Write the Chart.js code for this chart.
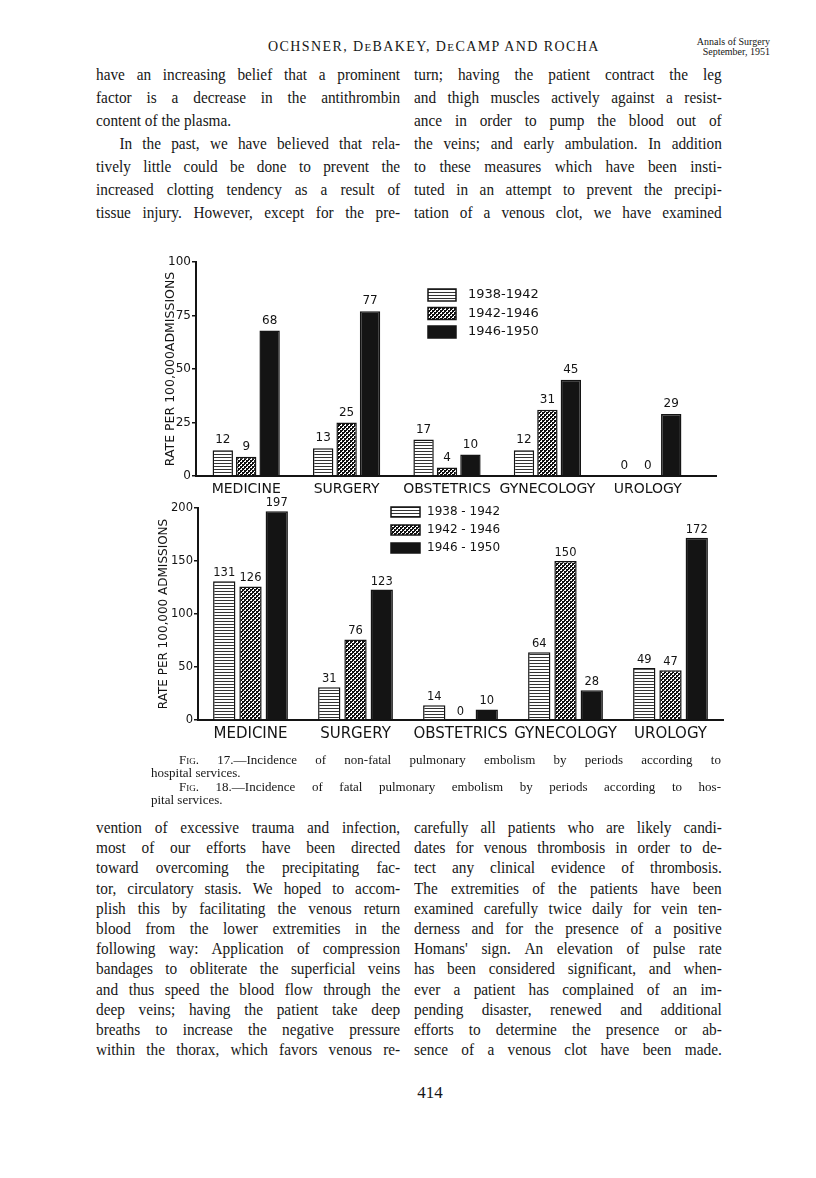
<!DOCTYPE html>
<html>
<head>
<meta charset="utf-8">
<script src="https://cdn.jsdelivr.net/npm/chart.js@4.4.0/dist/chart.umd.min.js"></script>
<style>
html, body { margin: 0; padding: 0; background: #fff; }
body { width: 816px; height: 1178px; position: relative; overflow: hidden;
  font-family: "Liberation Serif", "DejaVu Serif", serif; color: #161616; }
.hdr { position: absolute; left: 268px; top: 39px; font-size: 14px; letter-spacing: 1.4px; white-space: nowrap; }
.hdr small { font-size: 11px; }
.journal { position: absolute; left: 688px; width: 82px; top: 37px; font-size: 10px; line-height: 10px; text-align: right; white-space: nowrap; }
.col { position: absolute; font-size: 17px; transform: scaleX(0.9); transform-origin: 0 0; }
.col.top { top: 63px; line-height: 23px; }
.col.bot { top: 818px; line-height: 20.2px; }
.j { display: flex; justify-content: space-between; white-space: nowrap; }
.ind { padding-left: 26px; }
.cap { position: absolute; left: 151px; top: 753px; width: 570px; font-size: 13px; line-height: 13.4px; }
.sc { font-variant: small-caps; }
.pg { position: absolute; left: 400px; width: 60px; top: 1083px; font-size: 17px; text-align: center; }
canvas { position: absolute; }
#fig17 { left: 140px; top: 250px; }
#fig18 { left: 140px; top: 495px; }
</style>
</head>
<body>
<div class="hdr">OCHSNER, D<small>E</small>BAKEY, D<small>E</small>CAMP AND ROCHA</div>
<div class="journal">Annals of Surgery<br>September, 1951</div>

<div class="col top" style="left:96px; width:338px">
<div class="j">have an increasing belief that a prominent</div>
<div class="j">factor is a decrease in the antithrombin</div>
<div>content of the plasma.</div>
<div class="j ind">In the past, we have believed that rela-</div>
<div class="j">tively little could be done to prevent the</div>
<div class="j">increased clotting tendency as a result of</div>
<div class="j">tissue injury. However, except for the pre-</div>
</div>
<div class="col top" style="left:414px; width:342px">
<div class="j">turn; having the patient contract the leg</div>
<div class="j">and thigh muscles actively against a resist-</div>
<div class="j">ance in order to pump the blood out of</div>
<div class="j">the veins; and early ambulation. In addition</div>
<div class="j">to these measures which have been insti-</div>
<div class="j">tuted in an attempt to prevent the precipi-</div>
<div class="j">tation of a venous clot, we have examined</div>
</div>

<canvas id="fig17" width="600" height="260"></canvas>
<canvas id="fig18" width="600" height="260"></canvas>

<div class="cap">
<div class="j" style="padding-left:28px"><span class="sc">Fig.</span> 17.—Incidence of non-fatal pulmonary embolism by periods according to</div>
<div>hospital services.</div>
<div class="j" style="padding-left:28px"><span class="sc">Fig.</span> 18.—Incidence of fatal pulmonary embolism by periods according to hos-</div>
<div>pital services.</div>
</div>

<div class="col bot" style="left:96px; width:338px">
<div class="j">vention of excessive trauma and infection,</div>
<div class="j">most of our efforts have been directed</div>
<div class="j">toward overcoming the precipitating fac-</div>
<div class="j">tor, circulatory stasis. We hoped to accom-</div>
<div class="j">plish this by facilitating the venous return</div>
<div class="j">blood from the lower extremities in the</div>
<div class="j">following way: Application of compression</div>
<div class="j">bandages to obliterate the superficial veins</div>
<div class="j">and thus speed the blood flow through the</div>
<div class="j">deep veins; having the patient take deep</div>
<div class="j">breaths to increase the negative pressure</div>
<div class="j">within the thorax, which favors venous re-</div>
</div>
<div class="col bot" style="left:414px; width:342px">
<div class="j">carefully all patients who are likely candi-</div>
<div class="j">dates for venous thrombosis in order to de-</div>
<div class="j">tect any clinical evidence of thrombosis.</div>
<div class="j">The extremities of the patients have been</div>
<div class="j">examined carefully twice daily for vein ten-</div>
<div class="j">derness and for the presence of a positive</div>
<div class="j">Homans' sign. An elevation of pulse rate</div>
<div class="j">has been considered significant, and when-</div>
<div class="j">ever a patient has complained of an im-</div>
<div class="j">pending disaster, renewed and additional</div>
<div class="j">efforts to determine the presence or ab-</div>
<div class="j">sence of a venous clot have been made.</div>
</div>

<div class="pg">414</div>

<script>
// split justified lines into word spans so flex can spread them
document.querySelectorAll('.j').forEach(function (el) {
  let head = ''
  let text = el.textContent
  if (el.children.length) {
    head = el.children[0].outerHTML
    text = text.slice(el.children[0].textContent.length)
  }
  el.innerHTML = head + text.trim().split(/\s+/).map(w => '<span>' + w + '</span>').join('')
})

// ---- data ----
const services = ['MEDICINE', 'SURGERY', 'OBSTETRICS', 'GYNECOLOGY', 'UROLOGY']
const periods17 = ['1938-1942', '1942-1946', '1946-1950']
const periods18 = ['1938 - 1942', '1942 - 1946', '1946 - 1950']

// Fig. 17 non-fatal embolism, rate per 100,000 admissions
const nonFatal1938 = [12, 13, 17, 12, 0]
const nonFatal1942 = [9, 25, 4, 31, 0]
const nonFatal1946 = [68, 77, 10, 45, 29]
const ticks17 = [0, 25, 50, 75, 100]

// Fig. 18 fatal embolism
const fatal1938 = [131, 31, 14, 64, 49]
const fatal1942 = [126, 76, 0, 150, 47]
const fatal1946 = [197, 123, 10, 28, 172]
const ticks18 = [0, 50, 100, 150, 200]

const ink = '#141414'
const letter = '"DejaVu Sans", sans-serif'

function hatchLines() {
  let c = document.createElement('canvas')
  c.width = 4; c.height = 3
  let g = c.getContext('2d')
  g.fillStyle = '#fff'; g.fillRect(0, 0, 4, 3)
  g.fillStyle = '#333'; g.fillRect(0, 0, 4, 1)
  return g.createPattern(c, 'repeat')
}
function hatchChecks() {
  let c = document.createElement('canvas')
  c.width = 4; c.height = 4
  let g = c.getContext('2d')
  g.fillStyle = '#fff'; g.fillRect(0, 0, 4, 4)
  g.fillStyle = '#111'
  g.fillRect(0, 0, 2, 2)
  g.fillRect(2, 2, 2, 2)
  g.fillRect(0, 2, 1, 1)
  g.fillRect(2, 0, 1, 1)
  return g.createPattern(c, 'repeat')
}
const fills = [hatchLines(), hatchChecks(), ink]

// value written above every bar
const barLabels = {
  id: 'barLabels',
  afterDatasetsDraw(chart, args, opts) {
    let ctx = chart.ctx
    ctx.save()
    ctx.font = opts.font
    ctx.fillStyle = ink
    ctx.textAlign = 'center'
    ctx.textBaseline = 'middle'
    chart.data.datasets.forEach((ds, i) => {
      chart.getDatasetMeta(i).data.forEach((bar, j) => {
        ctx.fillText(String(ds.data[j]), bar.x, bar.y - opts.offset)
      })
    })
    ctx.restore()
  }
}

// little boxed legend inside the plot
const boxLegend = {
  id: 'boxLegend',
  afterDraw(chart, args, opts) {
    let ctx = chart.ctx
    ctx.save()
    ctx.font = opts.font
    ctx.textBaseline = 'middle'
    chart.data.datasets.forEach((ds, i) => {
      let y = opts.y + i * opts.gap
      ctx.fillStyle = ds.backgroundColor
      ctx.fillRect(opts.x, y - opts.h / 2, opts.w, opts.h)
      ctx.strokeStyle = ink
      ctx.lineWidth = 1.5
      ctx.strokeRect(opts.x, y - opts.h / 2, opts.w, opts.h)
      ctx.fillStyle = ink
      ctx.fillText(ds.label, opts.textX, y)
    })
    ctx.restore()
  }
}

// the drawn base line runs a bit past the last group
const longBase = {
  id: 'longBase',
  afterDraw(chart, args, opts) {
    if (!opts.extra) return
    let ctx = chart.ctx, a = chart.chartArea
    ctx.save()
    ctx.strokeStyle = ink
    ctx.lineWidth = 2
    ctx.beginPath()
    ctx.moveTo(a.right - 1, a.bottom)
    ctx.lineTo(a.right + opts.extra, a.bottom)
    ctx.stroke()
    ctx.restore()
  }
}

function makeChart(id, sets, labels, yTicks, cfg) {
  const datasets = sets.map((d, i) => ({
    label: labels[i],
    data: d,
    backgroundColor: fills[i],
    borderColor: ink,
    borderWidth: 1.5,
    borderSkipped: 'start',
    categoryPercentage: cfg.catPct,
    barPercentage: cfg.barPct
  }))
  return new Chart(document.getElementById(id), {
    type: 'bar',
    data: { labels: services, datasets: datasets },
    plugins: [barLabels, boxLegend, longBase],
    options: {
      responsive: false,
      animation: false,
      events: [],
      layout: { padding: cfg.pad },
      plugins: {
        legend: { display: false },
        tooltip: { enabled: false },
        barLabels: { font: cfg.valFont, offset: cfg.valOffset },
        boxLegend: cfg.legend,
        longBase: { extra: cfg.extra }
      },
      scales: {
        x: {
          afterFit: s => { s.height = 30 },
          border: { display: true, color: ink, width: 2 },
          grid: { display: false, drawTicks: false },
          ticks: { color: ink, font: { family: letter, size: cfg.catSize }, padding: 5, maxRotation: 0, autoSkip: false }
        },
        y: {
          min: 0,
          max: yTicks[yTicks.length - 1],
          afterBuildTicks: s => { s.ticks = yTicks.map(v => ({ value: v })) },
          afterFit: s => { s.width = cfg.yWidth },
          border: { display: true, color: ink, width: 2 },
          grid: { drawOnChartArea: false, drawTicks: true, tickLength: 4, color: ink, lineWidth: 1.5 },
          ticks: { color: ink, font: { family: letter, size: cfg.tickSize }, padding: 1 },
          title: { display: true, text: cfg.yTitle, color: ink, font: { family: letter, size: cfg.titleSize }, padding: { top: cfg.titlePad, bottom: 0 } }
        }
      }
    }
  })
}

makeChart('fig17', [nonFatal1938, nonFatal1942, nonFatal1946], periods17, ticks17, {
  pad: { left: 20, right: 42, top: 12, bottom: 4 },
  yWidth: 36, titlePad: 3.5, titleSize: 12.5, yTitle: 'RATE PER 100,000ADMISSIONS',
  catPct: 0.70, barPct: 0.87, catSize: 14, tickSize: 12,
  valFont: '12px "DejaVu Sans"', valOffset: 10, extra: 19,
  legend: { x: 288, y: 45, gap: 18.5, w: 28, h: 12, textX: 328, font: '13px "DejaVu Sans"' }
})

makeChart('fig18', [fatal1938, fatal1942, fatal1946], periods18, ticks18, {
  pad: { left: 10, right: 17, top: 13, bottom: 5 },
  yWidth: 48, titlePad: 7, titleSize: 12, yTitle: 'RATE PER 100,000 ADMISSIONS',
  catPct: 0.75, barPct: 0.85, catSize: 15, tickSize: 11.5,
  valFont: '11.5px "DejaVu Sans"', valOffset: 8, extra: 0,
  legend: { x: 251, y: 17, gap: 18, w: 29, h: 10, textX: 287, font: '12px "DejaVu Sans"' }
})
</script>
</body>
</html>
